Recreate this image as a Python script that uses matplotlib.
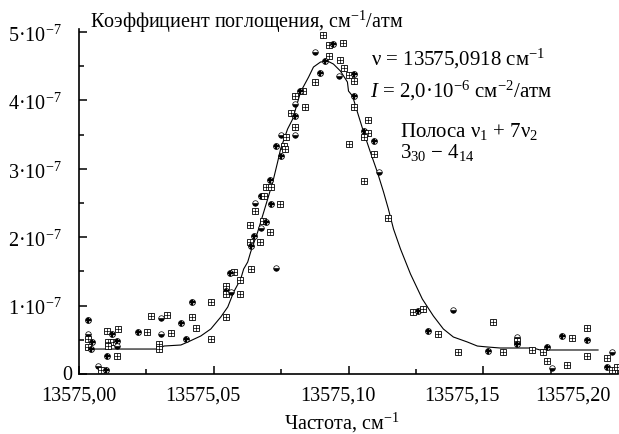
import matplotlib
matplotlib.use("Agg")
import matplotlib.pyplot as plt
from matplotlib.transforms import ScaledTranslation, blended_transform_factory
from matplotlib.ticker import MultipleLocator

plt.rcParams['font.family'] = ['Liberation Serif', 'DejaVu Serif']
plt.rcParams['mathtext.fontset'] = 'custom'
plt.rcParams['mathtext.rm'] = 'Liberation Serif'
plt.rcParams['mathtext.it'] = 'Liberation Serif:italic'
plt.rcParams['mathtext.bf'] = 'Liberation Serif:bold'

# ---- data ----
# measured points: frequency offset (thousandths of cm^-1 above 13575) and absorption (1e-7 cm^-1/atm)
meas_df = [90.7, 92.6, 94.4, 98.1, 87.4, 92.6, 91.1, 97.0, 98.5, 89.3, 87.4, 96.3, 100.0, 101.9, 101.9,
           83.0, 81.9, 80.0, 80.0, 83.7, 101.9, 101.9, 78.5, 80.0, 80.0, 80.0, 107.4, 105.9, 107.4, 105.9,
           109.3, 100.0, 74.8, 76.7, 73.0, 75.9, 76.3, 74.8, 109.3, 111.5, 105.6, 70.7, 69.3, 71.1, 67.4,
           68.5, 65.2, 65.2, 71.1, 74.4, 68.1, 69.3, 63.3, 67.4, 70.7, 64.8, 63.3, 67.0, 63.7, 63.7,
           73.0, 57.4, 55.9, 59.6, 54.4, 54.4, 54.4, 56.3, 59.6, 41.9, 48.9, 54.4, 3.3, 26.7, 30.4,
           32.6, 37.8, 41.9, 43.3, 21.9, 25.2, 30.4, 34.1, 39.6, 48.9, 10.4, 12.2, 14.4, 3.3, 3.3,
           4.8, 10.7, 12.6, 14.1, 10.7, 14.1, 3.3, 4.4, 29.6, 29.6, 10.4, 14.1, 7.0, 8.1, 10.0,
           114.8, 124.1, 125.9, 127.8, 138.9, 153.7, 129.6, 133.3, 140.7, 151.9, 157.4, 162.6, 162.6, 162.6,
           168.1, 172.2, 173.7, 173.7, 175.6, 181.1, 179.3, 183.0, 188.5, 188.5, 188.5, 197.8, 195.9, 195.9,
           197.8, 199.6]
meas_k = [4.956, 4.810, 4.825, 4.839, 4.708, 4.649, 4.576, 4.591, 4.474, 4.401, 4.269, 4.357, 4.371, 4.386, 4.284,
          4.137, 4.137, 4.064, 3.947, 3.904, 4.064, 3.904, 3.816, 3.772, 3.611, 3.494, 3.713, 3.553, 3.523, 3.465,
          3.406, 3.363, 3.494, 3.465, 3.333, 3.333, 3.289, 3.187, 3.216, 2.953, 2.822, 2.836, 2.734, 2.734, 2.602,
          2.602, 2.500, 2.383, 2.485, 2.485, 2.237, 2.222, 2.178, 2.135, 2.076, 2.018, 1.930, 1.930, 1.871, 1.535,
          1.550, 1.491, 1.477, 1.374, 1.287, 1.213, 1.170, 1.199, 1.170, 1.053, 1.053, 0.833, 0.789, 0.848, 0.819,
          0.863, 0.746, 0.833, 0.673, 0.614, 0.614, 0.585, 0.599, 0.512, 0.512, 0.629, 0.585, 0.658, 0.585, 0.512,
          0.468, 0.468, 0.468, 0.482, 0.409, 0.409, 0.395, 0.365, 0.439, 0.365, 0.263, 0.263, 0.117, 0.058, 0.058,
          2.281, 0.906, 0.921, 0.950, 0.936, 0.760, 0.629, 0.585, 0.322, 0.336, 0.322, 0.541, 0.482, 0.439,
          0.351, 0.322, 0.395, 0.190, 0.088, 0.132, 0.556, 0.526, 0.673, 0.497, 0.263, 0.322, 0.234, 0.102,
          0.058, 0.102]

# fitted profile
fit_df = [2.6, 29.6, 31.5, 37.8, 40.4, 45.2, 48.9, 52.6, 55.2, 57.4, 60.0, 61.1, 62.6, 63.7, 66.3, 68.1,
          70.0, 71.9, 73.7, 74.8, 77.4, 79.3, 82.2, 85.2, 87.0, 89.6, 92.2, 94.4, 97.0, 99.6, 100.0, 101.5,
          103.3, 105.6, 108.1, 110.7, 113.0, 114.8, 116.7, 119.3, 123.0, 127.4, 131.5, 135.2, 138.9, 144.1,
          147.8, 151.5, 156.3, 168.5, 171.1, 192.6]
fit_k = [0.365, 0.365, 0.409, 0.424, 0.468, 0.556, 0.658, 0.833, 0.980, 1.199, 1.389, 1.535, 1.637, 1.784,
         2.076, 2.310, 2.558, 2.807, 3.099, 3.289, 3.582, 3.728, 4.123, 4.342, 4.488, 4.561, 4.576, 4.532,
         4.430, 4.269, 4.137, 4.064, 3.830, 3.538, 3.246, 2.953, 2.661, 2.412, 2.120, 1.827, 1.462, 1.096,
         0.848, 0.658, 0.541, 0.468, 0.409, 0.395, 0.380, 0.380, 0.351, 0.351]

x_base = 13575.0
x_ticks = [13575.00, 13575.05, 13575.10, 13575.15, 13575.20]
x_ticklabels = ['13575,00', '13575,05', '13575,10', '13575,15', '13575,20']
y_ticks = [0, 1e-7, 2e-7, 3e-7, 4e-7, 5e-7]
y_ticklabels = ['0', r'1·10$^{-7}$', r'2·10$^{-7}$', r'3·10$^{-7}$', r'4·10$^{-7}$', r'5·10$^{-7}$']

mx = [x_base + v / 1000 for v in meas_df]
my = [v * 1e-7 for v in meas_k]
fx = [x_base + v / 1000 for v in fit_df]
fy = [v * 1e-7 for v in fit_k]

# ---- figure ----
W, H = 619, 435
fig = plt.figure(figsize=(W / 100, H / 100), dpi=100)
ax = fig.add_axes([79 / W, 1 - 375 / H, (618 - 79) / W, (375 - 29.6) / H])

ax.plot(fx, fy, color='black', lw=0.8, zorder=2)

kinds = ['box', 'box', 'cross', 'box', 'half', 'box', 'cross']
for i, (x, y) in enumerate(zip(mx, my)):
    k = kinds[i % len(kinds)]
    if k == 'half':
        ax.plot(x, y, marker='o', ms=4.0, mfc='black', mec='black', mew=0.5,
                fillstyle='bottom', markerfacecoloralt='white', ls='none', zorder=3)
    elif k == 'box':
        ax.plot(x, y, marker='s', ms=3.8, mfc='white', mec='black', mew=0.6, ls='none', zorder=3)
        ax.plot(x, y, marker='+', ms=3.8, mec='black', mew=0.5, ls='none', zorder=3)
    else:
        ax.plot(x, y, marker='o', ms=4.2, mfc='white', mec='black', mew=0.6, ls='none', zorder=3)
        ax.plot(x, y, marker='P', ms=3.6, mfc='black', mec='black', mew=0.2, ls='none', zorder=3)

ax.set_xlim(13575.0, 13575.2)
ax.set_ylim(0, 5.05e-7)

for s in ['top', 'right']:
    ax.spines[s].set_visible(False)
for s in ['left', 'bottom']:
    ax.spines[s].set_linewidth(1.2)

ax.set_xticks(x_ticks)
ax.xaxis.set_minor_locator(MultipleLocator(0.025))
ax.set_xticklabels([])
ax.set_yticks(y_ticks)
ax.set_yticklabels([])
ax.yaxis.set_minor_locator(MultipleLocator(0.5e-7))
ax.tick_params(axis='both', which='major', direction='in', length=6, width=1.1)
ax.tick_params(axis='both', which='minor', direction='in', length=3.5, width=1.1)

# x tick labels (placed as in the original, slightly left of some ticks)
label_shift_px = [0, -11, -11, -21, -45]
trans = blended_transform_factory(ax.transData, ax.transAxes)
for xt, lab, dx in zip(x_ticks, x_ticklabels, label_shift_px):
    t = trans + ScaledTranslation(dx / 100, -12 / 100, fig.dpi_scale_trans)
    ax.text(xt, 0, lab, transform=t, ha='center', va='top', fontsize=14.5, clip_on=False)

# y tick labels
ytrans = blended_transform_factory(ax.transAxes, ax.transData)
for yt, lab in zip(y_ticks, y_ticklabels):
    dx = -7 if lab == '0' else -17
    dy = -1 if lab == '0' else -3
    t = ytrans + ScaledTranslation(dx / 100, dy / 100, fig.dpi_scale_trans)
    ax.text(0, yt, lab, transform=t, ha='right', va='center', fontsize=14.5, clip_on=False)

fig.text(90 / W, 1 - 22 / H, 'Коэффициент поглощения, см$^{-1}$/атм', fontsize=14.5, ha='left', va='center')
fig.text(342 / W, 1 - 423 / H, 'Частота, см$^{-1}$', fontsize=14.5, ha='center', va='center')

fs = 15
fig.text(371 / W, 1 - 65 / H, 'ν = 13575,0918 см$^{-1}$', fontsize=fs, ha='left', va='baseline')
fig.text(370 / W, 1 - 97 / H, '$I$ = 2,0·10$^{-6}$ см$^{-2}$/атм', fontsize=fs, ha='left', va='baseline')
fig.text(400 / W, 1 - 137 / H, 'Полоса ν$_1$ + 7ν$_2$', fontsize=fs, ha='left', va='baseline')
fig.text(400 / W, 1 - 158 / H, '3$_{30}$ − 4$_{14}$', fontsize=fs, ha='left', va='baseline')

fig.savefig('out.png', dpi=100)
